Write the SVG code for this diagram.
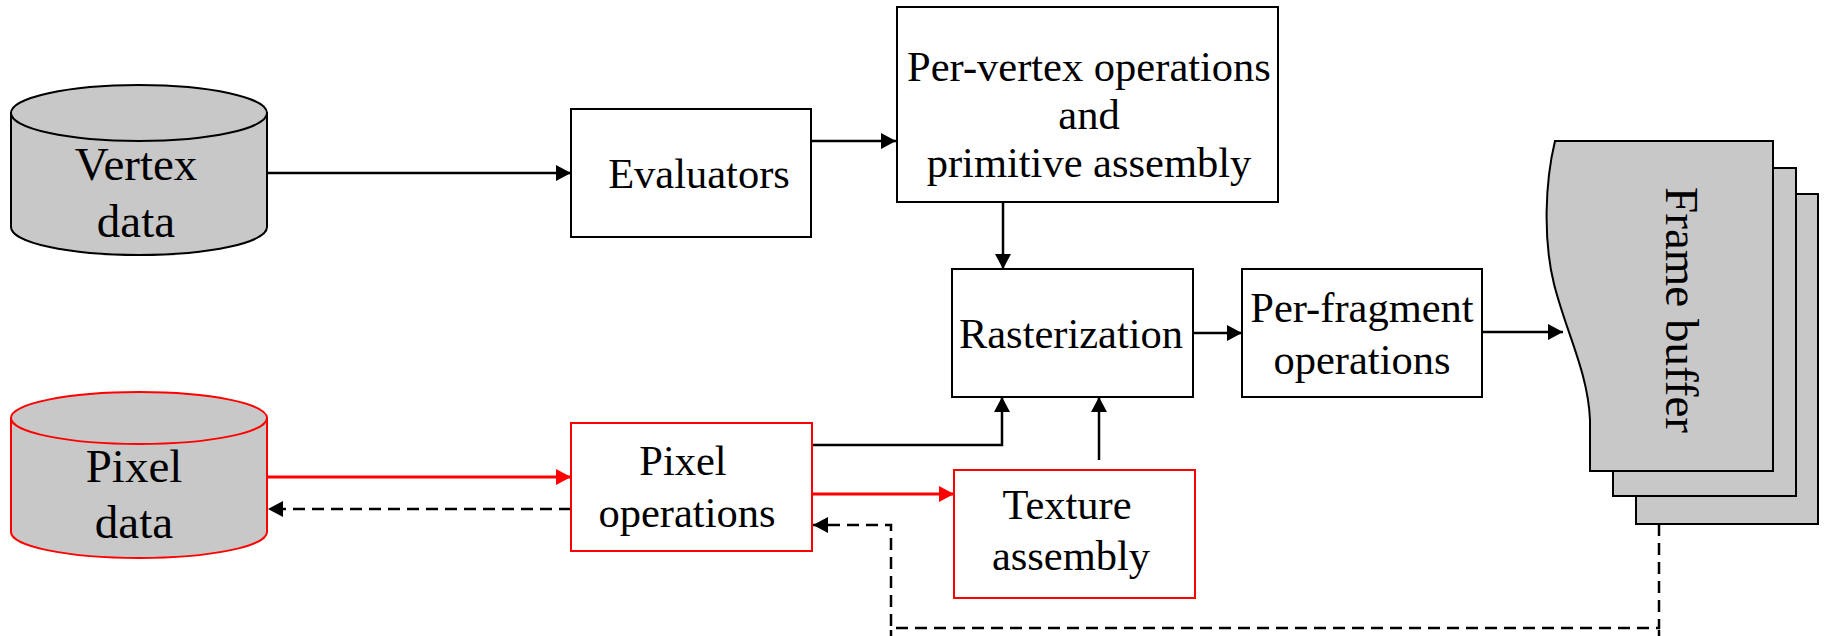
<svg xmlns="http://www.w3.org/2000/svg" width="1825" height="636" viewBox="0 0 1825 636">
  <style>
    text { font-family: "Liberation Serif", "Times New Roman", serif; fill: #000; }
    .box { fill: #fff; stroke: #000; stroke-width: 2; }
    .rbox { fill: #fff; stroke: #ff0000; stroke-width: 2; }
    .store { fill: #c8c8c8; stroke: #000; stroke-width: 2; }
    .rstore { fill: #c8c8c8; stroke: #ff0000; stroke-width: 2; }
    .lbl { font-size: 42.5px; text-anchor: middle; }
    .big { font-size: 47px; text-anchor: middle; }
    .wire { fill: none; stroke: #000; stroke-width: 2.5; }
    .rwire { fill: none; stroke: #ff0000; stroke-width: 3; }
    .dash { fill: none; stroke: #000; stroke-width: 2.5; stroke-dasharray: 12 7; }
  </style>
  <defs>
    <marker id="ah" markerUnits="userSpaceOnUse" markerWidth="16" markerHeight="16" refX="15" refY="8" orient="auto">
      <path d="M0,0 L15,8 L0,16 Z" fill="#000"/>
    </marker>
    <marker id="ahr" markerUnits="userSpaceOnUse" markerWidth="16" markerHeight="16" refX="15" refY="8" orient="auto">
      <path d="M0,0 L15,8 L0,16 Z" fill="#ff0000"/>
    </marker>
  </defs>

  <rect width="1825" height="636" fill="#fff"/>

  <!-- connectors -->
  <g id="connectors">
    <path class="wire" d="M267,173 L571,173" marker-end="url(#ah)"/>
    <path class="wire" d="M811,141 L896,141" marker-end="url(#ah)"/>
    <path class="wire" d="M1003,202 L1003,269" marker-end="url(#ah)"/>
    <path class="wire" d="M1193,333 L1242,333" marker-end="url(#ah)"/>
    <path class="wire" d="M1482,332 L1563,332" marker-end="url(#ah)"/>
    <path class="wire" d="M812,445 L1002,445 L1002,397" marker-end="url(#ah)"/>
    <path class="wire" d="M1099,460 L1099,397" marker-end="url(#ah)"/>
    <path class="rwire" d="M267,477 L571,477" marker-end="url(#ahr)"/>
    <path class="rwire" d="M812,494 L954,494" marker-end="url(#ahr)"/>
    <path class="dash" d="M571,509 L268,509" marker-end="url(#ah)"/>
    <path class="dash" d="M1659,524 L1659,628 L891,628 L891,525 L813,525" marker-end="url(#ah)"/>
    <!-- short stubs where the dashed return run overshoots its corners -->
    <path class="dash" d="M1659,630 L1659,636"/>
    <path class="dash" d="M891,630 L891,636"/>
  </g>

  <!-- vertex data store -->
  <g id="vertex-data">
    <path class="store" d="M11,113 L11,227 A128,28 0 0 0 267,227 L267,113 Z"/>
    <ellipse class="store" cx="139" cy="113" rx="128" ry="28"/>
    <text class="big" x="136" y="180">Vertex</text>
    <text class="big" x="136" y="237">data</text>
  </g>

  <!-- pixel data store -->
  <g id="pixel-data">
    <path class="rstore" d="M11,418 L11,532 A128,26 0 0 0 267,532 L267,418 Z"/>
    <ellipse class="rstore" cx="139" cy="418" rx="128" ry="26"/>
    <text class="big" x="134" y="482">Pixel</text>
    <text class="big" x="134" y="538">data</text>
  </g>

  <g id="evaluators">
    <rect class="box" x="571" y="109" width="240" height="128"/>
    <text class="lbl" x="699" y="188">Evaluators</text>
  </g>

  <g id="per-vertex">
    <rect class="box" x="897" y="7" width="381" height="195"/>
    <text class="lbl" x="1089" y="81">Per-vertex operations</text>
    <text class="lbl" x="1089" y="129">and</text>
    <text class="lbl" x="1089" y="177">primitive assembly</text>
  </g>

  <g id="rasterization">
    <rect class="box" x="952" y="269" width="241" height="128"/>
    <text class="lbl" x="1071" y="348">Rasterization</text>
  </g>

  <g id="per-fragment">
    <rect class="box" x="1242" y="269" width="240" height="128"/>
    <text class="lbl" x="1362" y="322">Per-fragment</text>
    <text class="lbl" x="1362" y="374">operations</text>
  </g>

  <g id="pixel-operations">
    <rect class="rbox" x="571" y="423" width="241" height="128"/>
    <text class="lbl" x="683" y="475">Pixel</text>
    <text class="lbl" x="687" y="527">operations</text>
  </g>

  <g id="texture-assembly">
    <rect class="rbox" x="954" y="470" width="241" height="128"/>
    <text class="lbl" x="1067" y="519">Texture</text>
    <text class="lbl" x="1071" y="570">assembly</text>
  </g>

  <!-- stacked frame buffer sheets -->
  <g id="frame-buffer">
    <rect class="store" x="1636" y="194" width="182" height="330"/>
    <rect class="store" x="1613" y="168" width="183" height="328"/>
    <path class="store" d="M1555,141 L1773,141 L1773,471 L1590,471 L1590,420 C1588,372 1566,332 1554,284 C1543,240 1545,182 1555,141 Z"/>
    <text class="big" transform="translate(1666,310) rotate(90)" x="0" y="0">Frame buffer</text>
  </g>
</svg>
